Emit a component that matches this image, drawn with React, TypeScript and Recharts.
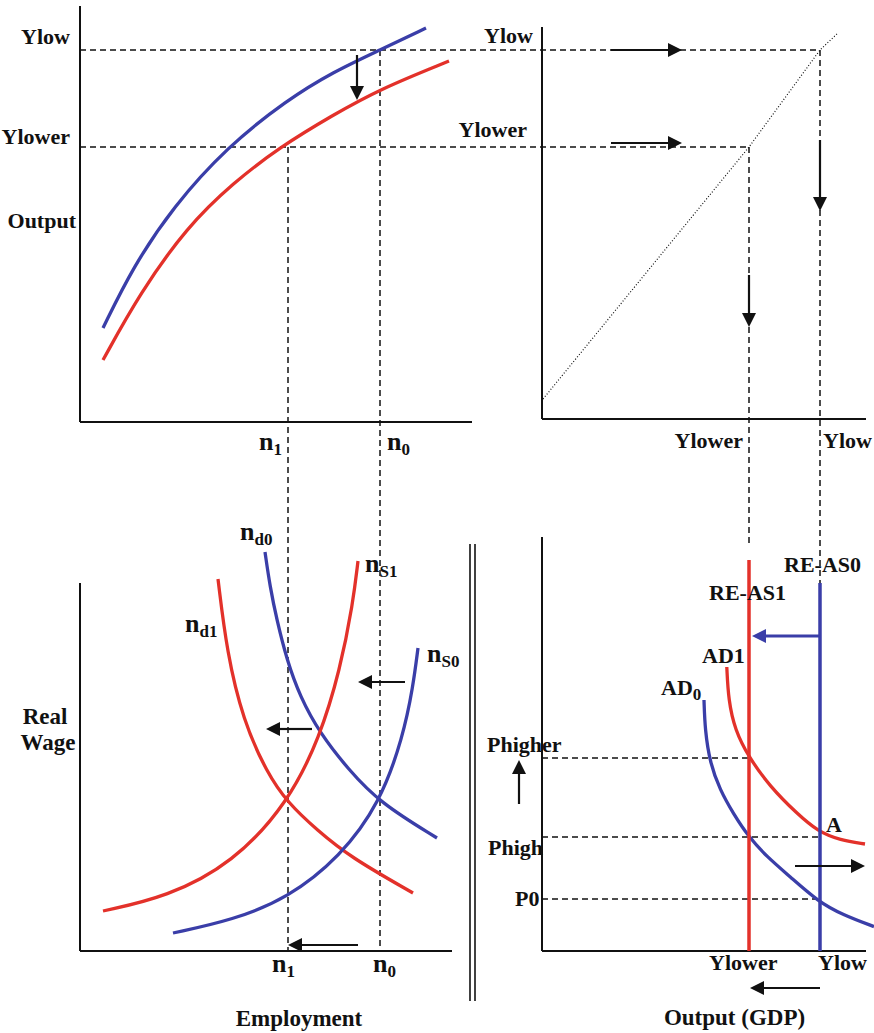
import React from "react";
import { LineChart, Line, XAxis, YAxis, ReferenceLine, ReferenceDot } from "recharts";

const W = 874;
const H = 1033;
const BLUE = "#3a3ea8";
const RED = "#e3312a";
const INK = "#111";
const SERIF = "'Liberation Serif', 'Times New Roman', serif";

// key levels (each panel uses its own units)
const Y_LOW = 93;
const Y_LOWER = 68.75;
const N0 = 75;
const N1 = 52;
const X_LOWER = 51.75; // Ylower on the right-hand x axes
const X_LOW = 69.5; // Ylow on the right-hand x axes
const P_HIGHER = 48.25;
const P_HIGH = 28.5;
const P0 = 13;

// top left: production functions
const prodBefore = [
    { x: 5.75, y: 23.5 }, { x: 13.25, y: 38.75 }, { x: 23.25, y: 53.75 }, { x: 36.75, y: 68.75 },
    { x: 51.75, y: 80.5 }, { x: 63.25, y: 87.5 }, { x: 75, y: 93 }, { x: 86.5, y: 98.5 },
];
const prodAfter = [
    { x: 5.75, y: 15.5 }, { x: 15, y: 32.25 }, { x: 26.75, y: 48.75 }, { x: 38.25, y: 59.75 },
    { x: 50, y: 68.75 }, { x: 63.25, y: 76.75 }, { x: 75, y: 83.25 }, { x: 92.25, y: 90.25 },
];

// top right: 45 degree line
const fortyFive = [
    { x: 0.25, y: 5.75 }, { x: 51.75, y: 68.75 }, { x: 69.5, y: 93 }, { x: 74, y: 97.25 },
];

// bottom left: labour market
const demand1 = [
    { x: 34.5, y: 93 }, { x: 36.75, y: 74.5 }, { x: 40.75, y: 57.75 }, { x: 46.75, y: 44.5 },
    { x: 52, y: 37 }, { x: 59.25, y: 30.25 }, { x: 67.5, y: 23.5 }, { x: 83.25, y: 14.5 },
];
const demand0 = [
    { x: 46.25, y: 99.75 }, { x: 47.5, y: 91.1 }, { x: 49.2, y: 82.8 }, { x: 51.7, y: 72.8 },
    { x: 55, y: 63.6 }, { x: 60, y: 54.4 }, { x: 67, y: 45.5 }, { x: 75, y: 37 }, { x: 89.25, y: 28.25 },
];
const supply1 = [
    { x: 5.75, y: 10 }, { x: 21.75, y: 13.5 }, { x: 38.25, y: 22 }, { x: 52, y: 37 },
    { x: 60, y: 53.5 }, { x: 65, y: 70.25 }, { x: 68.25, y: 87 }, { x: 69.5, y: 97.5 },
];
const supply0 = [
    { x: 23.25, y: 4.5 }, { x: 38.25, y: 7.75 }, { x: 52, y: 13.25 }, { x: 65, y: 23.5 },
    { x: 75, y: 37 }, { x: 80.75, y: 53.5 }, { x: 83.25, y: 66 }, { x: 84.5, y: 75.75 },
];

// bottom right: AD / RE-AS
const ad1 = [
    { x: 46.2, y: 71 }, { x: 46.6, y: 62.75 }, { x: 48.25, y: 55.25 }, { x: 51.6, y: 48.6 },
    { x: 57, y: 41.1 }, { x: 63.7, y: 34.4 }, { x: 69.1, y: 29.8 }, { x: 74.5, y: 27.75 }, { x: 80.75, y: 26.75 },
];
const ad0 = [
    { x: 40.5, y: 62.75 }, { x: 40.75, y: 55.25 }, { x: 42, y: 47 }, { x: 44.5, y: 40.25 },
    { x: 47.8, y: 34.4 }, { x: 51.6, y: 28.6 }, { x: 56.2, y: 23.6 }, { x: 62, y: 18.6 },
    { x: 69.1, y: 12.3 }, { x: 75.3, y: 9 }, { x: 83, y: 6.1 },
];
const reAs1 = [{ x: X_LOWER, y: 0 }, { x: X_LOWER, y: 97.75 }];
const reAs0 = [{ x: X_LOW, y: 0 }, { x: X_LOW, y: 92 }];

type Pt = [number, number];

const curve = (key: string, data: { x: number; y: number }[], color: string, type: any = "basis", width = 3.3, dash?: string) => (
    <Line
        key={key}
        data={data}
        dataKey="y"
        type={type}
        stroke={color}
        strokeWidth={width}
        strokeDasharray={dash}
        dot={false}
        activeDot={false}
        isAnimationActive={false}
    />
);

const seg = (a: Pt, b: Pt) => [{ x: a[0], y: a[1] }, { x: b[0], y: b[1] }];

const dashed = (key: string, a: Pt, b: Pt) => (
    <ReferenceLine key={key} segment={seg(a, b)} ifOverflow="visible" stroke={INK} strokeWidth={1.5} strokeDasharray="6 4" />
);

const rule = (key: string, a: Pt, b: Pt, width = 2) => (
    <ReferenceLine key={key} segment={seg(a, b)} ifOverflow="visible" stroke={INK} strokeWidth={width} />
);

const arrowShape = (color: string, width: number) => (p: any) => {
    const { x1, y1, x2, y2 } = p;
    const len = Math.hypot(x2 - x1, y2 - y1) || 1;
    const ux = (x2 - x1) / len;
    const uy = (y2 - y1) / len;
    const head = 14;
    const half = 7;
    const bx = x2 - ux * head;
    const by = y2 - uy * head;
    return (
        <g>
            <line x1={x1} y1={y1} x2={bx} y2={by} stroke={color} strokeWidth={width} />
            <polygon
                points={`${x2},${y2} ${bx - uy * half},${by + ux * half} ${bx + uy * half},${by - ux * half}`}
                fill={color}
            />
        </g>
    );
};

const arrow = (key: string, a: Pt, b: Pt, color = INK, width = 2.2) => (
    <ReferenceLine key={key} segment={seg(a, b)} ifOverflow="visible" shape={arrowShape(color, width)} />
);

const note = (key: string, x: number, y: number, body: React.ReactNode, anchor = "start", size = 22) => (
    <ReferenceDot
        key={key}
        x={x}
        y={y}
        r={0}
        ifOverflow="visible"
        shape={(p: any) => (
            <text x={p.cx} y={p.cy} textAnchor={anchor} fontFamily={SERIF} fontWeight={700} fontSize={size} fill={INK}>
                {body}
            </text>
        )}
    />
);

const sub = (base: string, s: string) => (
    <>
        {base}
        <tspan fontSize={17} dy={5}>{s}</tspan>
    </>
);

function Panel({ margin, xDomain, yDomain, children }: any) {
    return (
        <div style={{ position: "absolute", left: 0, top: 0 }}>
            <LineChart width={W} height={H} margin={margin}>
                <XAxis type="number" dataKey="x" domain={xDomain} allowDataOverflow hide />
                <YAxis type="number" domain={yDomain} allowDataOverflow hide />
                {rule("x-axis", [xDomain[0], yDomain[0]], [xDomain[1], yDomain[0]])}
                {rule("y-axis", [xDomain[0], yDomain[0]], [xDomain[0], yDomain[1]])}
                {children}
            </LineChart>
        </div>
    );
}

export default function App() {
    return (
        <div style={{ position: "absolute", left: 0, top: 0, width: W, height: H, background: "#fff" }}>
            <style>{".recharts-surface [clip-path]{clip-path:none !important}"}</style>

            {/* Output vs employment */}
            <Panel margin={{ top: 6, left: 80, right: 402, bottom: 611 }} xDomain={[0, 98]} yDomain={[0, 104]}>
                {dashed("ylow", [0, Y_LOW], [185, Y_LOW])}
                {dashed("ylower", [0, Y_LOWER], [167.25, Y_LOWER])}
                {dashed("n0", [N0, Y_LOW], [N0, -132.25])}
                {dashed("n1", [N1, Y_LOWER], [N1, -132.25])}
                {curve("before", prodBefore, BLUE)}
                {curve("after", prodAfter, RED)}
                {arrow("shift", [69.25, 91.75], [69.25, 80.5])}
                {note("l-ylow", -2.5, 94.5, "Ylow", "end")}
                {note("l-ylower", -2.5, 69.5, "Ylower", "end")}
                {note("l-output", -1, 48.5, "Output", "end")}
                {note("l-n1", 50.5, -7, sub("n", "1"), "end", 26)}
                {note("l-n0", 76.75, -7, sub("n", "0"), "start", 26)}
            </Panel>

            {/* 45 degree line */}
            <Panel margin={{ top: 27, left: 542, right: 8, bottom: 614 }} xDomain={[0, 81]} yDomain={[0.75, 98.75]}>
                {dashed("v-lower", [X_LOWER, Y_LOWER], [X_LOWER, -30.75])}
                {dashed("v-low", [X_LOW, Y_LOW], [X_LOW, -40.25])}
                {curve("diag", fortyFive, INK, "linear", 1.2, "1 2")}
                {arrow("r1", [17.25, Y_LOW], [35, Y_LOW])}
                {arrow("r2", [17.25, 69.75], [35, 69.75])}
                {arrow("d1", [X_LOWER, 36.75], [X_LOWER, 23.75])}
                {arrow("d2", [X_LOW, 70.5], [X_LOW, 52.75])}
                {note("r-ylow", -2.25, 94.75, "Ylow", "end")}
                {note("r-ylower", -3.75, 71.25, "Ylower", "end")}
                {note("r-xlower", 50.25, -6.5, "Ylower", "end")}
                {note("r-xlow", 70.25, -6.5, "Ylow", "start")}
            </Panel>

            {/* Labour market */}
            <Panel margin={{ top: 583, left: 80, right: 422, bottom: 82 }} xDomain={[0, 93]} yDomain={[0, 92]}>
                {curve("nd1", demand1, RED)}
                {curve("nd0", demand0, BLUE)}
                {curve("ns1", supply1, RED)}
                {curve("ns0", supply0, BLUE)}
                {arrow("a1", [81.25, 67.25], [69.5, 67.25])}
                {arrow("a2", [58, 55.5], [46.5, 55.5])}
                {arrow("a3", [69.5, 1.5], [N1, 1.5])}
                {note("nd0", 40, 102.75, sub("n", "d0"), "start", 26)}
                {note("ns1", 71.25, 94.75, sub("n", "S1"), "start", 26)}
                {note("nd1", 26.25, 79.75, sub("n", "d1"), "start", 26)}
                {note("ns0", 86.75, 72.25, sub("n", "S0"), "start", 26)}
                {note("b-n1", 48, -5.25, sub("n", "1"), "start", 26)}
                {note("b-n0", 73.25, -5.25, sub("n", "0"), "start", 26)}
                {note("real", -8.75, 56.75, "Real", "middle", 23)}
                {note("wage", -8, 50.25, "Wage", "middle", 23)}
                {note("employment", 54.75, -18.75, "Employment", "middle", 23)}
            </Panel>

            {/* AD / RE-AS */}
            <Panel margin={{ top: 537, left: 542, right: 8, bottom: 82 }} xDomain={[0, 81]} yDomain={[0, 103.5]}>
                {rule("sep1", [-18, 101.75], [-18, -12.5], 1.6)}
                {rule("sep2", [-16.75, 101.75], [-16.75, -12.5], 1.6)}
                {dashed("phigher", [0, P_HIGHER], [X_LOWER, P_HIGHER])}
                {dashed("phigh", [0, P_HIGH], [X_LOW, P_HIGH])}
                {dashed("p0", [0, P0], [X_LOW, P0])}
                {curve("ad1", ad1, RED)}
                {curve("ad0", ad0, BLUE)}
                {curve("reas1", reAs1, RED, "linear", 3.5)}
                {curve("reas0", reAs0, BLUE, "linear", 3.5)}
                {arrow("blue", [X_LOW, 78.75], [52.5, 78.75], BLUE, 3)}
                {arrow("up", [-5.75, 36.75], [-5.75, 47.75])}
                {arrow("right", [63.25, 21.25], [80.75, 21.25])}
                {arrow("left", [X_LOW, -9.25], [52, -9.25])}
                {note("reas0-l", 60.5, 94.75, "RE-AS0")}
                {note("reas1-l", 41.75, 87.75, "RE-AS1")}
                {note("ad1-l", 40, 72, "AD1")}
                {note("ad0-l", 29.75, 64, sub("AD", "0"))}
                {note("phigher-l", -13.75, 49.75, "Phigher")}
                {note("phigh-l", -13.5, 24, "Phigh")}
                {note("p0-l", -6.75, 11.25, "P0")}
                {note("a-l", 71, 29.75, "A")}
                {note("x-lower", 41.75, -4.75, "Ylower")}
                {note("x-low", 69, -4.75, "Ylow")}
                {note("gdp", 48.125, -18.5, "Output (GDP)", "middle", 23)}
            </Panel>
        </div>
    );
}
